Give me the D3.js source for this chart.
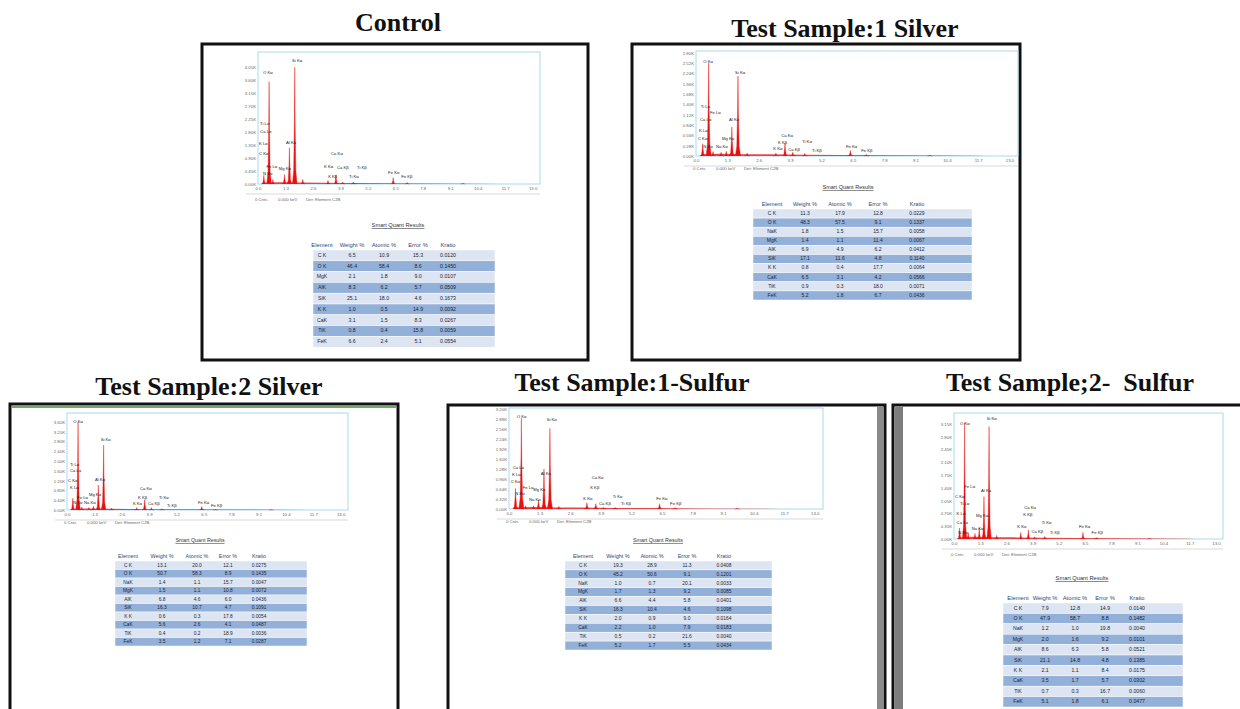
<!DOCTYPE html>
<html>
<head>
<meta charset="utf-8">
<script src="https://cdn.jsdelivr.net/npm/d3@7"></script>
<style>
  body { margin: 0; background: #fff; }
  svg { display: block; }
  .title { font-family: "Liberation Serif", "Times New Roman", serif; font-weight: bold; font-size: 26px; fill: #111; white-space: pre; }
  .axis text { font-family: "Liberation Sans", Arial, sans-serif; font-size: 4.3px; fill: #666; }
  .plabel { font-family: "Liberation Sans", Arial, sans-serif; font-size: 4.2px; fill: #222; }
  .foot { font-family: "Liberation Sans", Arial, sans-serif; font-size: 4.3px; fill: #666; }
  .tbl { font-family: "Liberation Sans", Arial, sans-serif; }
</style>
</head>
<body>
<svg width="1240" height="709"></svg>
<script>
// ---------------- data ----------------
const keVTicks = [0, 1.3, 2.6, 3.9, 5.2, 6.5, 7.8, 9.1, 10.4, 11.7, 13.0];
const tableHeader = ['Element', 'Weight %', 'Atomic %', 'Error %', 'Kratio'];
const footerTexts = ['0 Cnts', '0.000 keV', 'Det: Element C2B'];

// low background under the peaks: [keV, K counts]
const continuum = [[0.15, 0], [0.25, 0.05], [1.0, 0.06], [2.0, 0.05], [3.0, 0.045], [4.5, 0.035],
  [6.0, 0.028], [8.0, 0.02], [10.0, 0.012], [11.5, 0.004], [12.0, 0]];

// Control
const controlTicksK = [0, 0.45, 0.9, 1.35, 1.8, 2.25, 2.7, 3.15, 3.6, 4.05];
const controlPeaks = [[0.277, 0.30], [0.525, 3.55], [0.705, 0.16], [1.254, 0.33], [1.487, 1.26], [1.74, 4.05],
  [2.12, 0.16], [3.313, 0.12], [3.69, 0.32], [4.01, 0.07], [4.51, 0.07], [6.40, 0.22], [7.06, 0.05], [9.7, 0.03]];
const controlLabels = [['Si Kα', 1.61, 4.27], ['O Kα', 0.24, 3.85], ['Ti Lα', 0.1, 2.1], ['Ca Lα', 0.1, 1.82],
  ['K Lα', 0.05, 1.4], ['C Kα', 0.05, 1.05], ['Al Kα', 1.33, 1.43], ['Fe Lα', 0.4, 0.59], ['Mg Kα', 0.98, 0.52],
  ['N Kα', 0.24, 0.35], ['Ca Kα', 3.46, 1.05], ['K Kα', 3.13, 0.59], ['Ca Kβ', 3.74, 0.56], ['Ti Kβ', 4.69, 0.56],
  ['K Kβ', 3.32, 0.24], ['Ti Kα', 4.31, 0.24], ['Fe Kα', 6.16, 0.38], ['Fe Kβ', 6.78, 0.24]];
const controlRows = [
  ['C K', 6.5, 10.9, 15.3, 0.0120], ['O K', 46.4, 58.4, 8.6, 0.1450], ['MgK', 2.1, 1.8, 9.0, 0.0107],
  ['AlK', 8.3, 6.2, 5.7, 0.0509], ['SiK', 25.1, 18.0, 4.6, 0.1673], ['K K', 1.0, 0.5, 14.9, 0.0092],
  ['CaK', 3.1, 1.5, 8.3, 0.0267], ['TiK', 0.8, 0.4, 15.8, 0.0059], ['FeK', 6.6, 2.4, 5.1, 0.0554]];

// Test Sample:1 Silver
const silver1TicksK = [0, 0.28, 0.56, 0.84, 1.12, 1.4, 1.68, 1.96, 2.24, 2.52, 2.8];
const silver1Peaks = [[0.277, 0.33], [0.525, 2.53], [0.705, 0.12], [1.041, 0.10], [1.254, 0.13], [1.487, 0.79],
  [1.74, 2.17], [2.12, 0.08], [3.313, 0.08], [3.69, 0.35], [4.01, 0.1], [4.51, 0.07], [6.40, 0.15], [7.06, 0.04], [9.7, 0.02]];
const silver1Labels = [['O Kα', 0.3, 2.55], ['Si Kα', 1.62, 2.25], ['Ti Lα', 0.2, 1.34], ['Fe Lα', 0.58, 1.17],
  ['Ca Lα', 0.17, 0.98], ['Al Kα', 1.37, 0.98], ['K Lα', 0.12, 0.68], ['C Kα', 0.08, 0.46], ['Mg Kα', 1.08, 0.46],
  ['N Kα', 0.3, 0.24], ['Na Kα', 0.83, 0.24], ['Ca Kα', 3.53, 0.54], ['K Kβ', 3.4, 0.35], ['Ti Kα', 4.4, 0.38],
  ['K Kα', 3.2, 0.19], ['Ca Kβ', 3.82, 0.16], ['Ti Kβ', 4.81, 0.14], ['Fe Kα', 6.22, 0.24], ['Fe Kβ', 6.85, 0.14]];
const silver1Rows = [
  ['C K', 11.3, 17.9, 12.8, 0.0229], ['O K', 48.3, 57.5, 9.1, 0.1337], ['NaK', 1.8, 1.5, 15.7, 0.0058],
  ['MgK', 1.4, 1.1, 11.4, 0.0067], ['AlK', 6.9, 4.9, 6.2, 0.0412], ['SiK', 17.1, 11.6, 4.8, 0.1140],
  ['K K', 0.8, 0.4, 17.7, 0.0064], ['CaK', 6.5, 3.1, 4.2, 0.0566], ['TiK', 0.9, 0.3, 18.0, 0.0071],
  ['FeK', 5.2, 1.8, 6.7, 0.0436]];

// Test Sample:2 Silver
const silver2TicksK = [0, 0.4, 0.8, 1.2, 1.6, 2.0, 2.4, 2.8, 3.2, 3.6];
const silver2Peaks = [[0.277, 0.48], [0.525, 3.6], [0.705, 0.12], [1.041, 0.1], [1.254, 0.16], [1.487, 1.02],
  [1.74, 2.66], [2.12, 0.08], [3.313, 0.1], [3.69, 0.42], [4.01, 0.1], [4.51, 0.05], [6.40, 0.14], [7.06, 0.04], [9.7, 0.02]];
const silver2Labels = [['O Kα', 0.3, 3.62], ['Si Kα', 1.6, 2.87], ['Ti Lα', 0.14, 1.84], ['Ca Lα', 0.14, 1.6],
  ['C Kα', 0.05, 1.19], ['Al Kα', 1.33, 1.23], ['K Lα', 0.14, 0.9], ['Fe Lα', 0.48, 0.49], ['Mg Kα', 1.04, 0.61],
  ['N Kα', 0.29, 0.29], ['Na Kα', 0.81, 0.29], ['Ca Kα', 3.47, 0.86], ['K Kβ', 3.37, 0.49], ['Ti Kα', 4.37, 0.49],
  ['K Kα', 3.13, 0.25], ['Ca Kβ', 3.85, 0.25], ['Ti Kβ', 4.75, 0.16], ['Fe Kα', 6.22, 0.29], ['Fe Kβ', 6.84, 0.16]];
const silver2Rows = [
  ['C K', 13.1, 20.0, 12.1, 0.0275], ['O K', 50.7, 58.3, 8.9, 0.1435], ['NaK', 1.4, 1.1, 15.7, 0.0047],
  ['MgK', 1.5, 1.1, 10.8, 0.0072], ['AlK', 6.8, 4.6, 6.0, 0.0436], ['SiK', 16.3, 10.7, 4.7, 0.1091],
  ['K K', 0.6, 0.3, 17.8, 0.0054], ['CaK', 5.6, 2.6, 4.1, 0.0487], ['TiK', 0.4, 0.2, 18.9, 0.0036],
  ['FeK', 3.5, 1.2, 7.1, 0.0287]];

// Test Sample:1-Sulfur
const sulfur1TicksK = [0, 0.32, 0.64, 0.96, 1.28, 1.6, 1.92, 2.24, 2.56, 2.88, 3.2];
const sulfur1Peaks = [[0.277, 0.66], [0.525, 2.9], [0.705, 0.1], [1.041, 0.1], [1.254, 0.29], [1.487, 1.28],
  [1.74, 2.58], [2.12, 0.08], [3.313, 0.2], [3.69, 0.17], [4.01, 0.05], [4.51, 0.05], [6.40, 0.17], [7.06, 0.04], [9.7, 0.03]];
const sulfur1Labels = [['O Kα', 0.33, 2.95], ['Si Kα', 1.6, 2.85], ['Ca Lα', 0.16, 1.32], ['K Lα', 0.13, 1.09],
  ['C Kα', 0.07, 0.87], ['Al Kα', 1.35, 1.12], ['Fe Lα', 0.58, 0.66], ['Mg Kα', 1.03, 0.61], ['N Kα', 0.27, 0.47],
  ['Na Kα', 0.85, 0.29], ['Ca Kα', 3.52, 1.01], ['K Kβ', 3.45, 0.66], ['Ti Kα', 4.41, 0.39], ['K Kα', 3.16, 0.32],
  ['Ca Kβ', 3.83, 0.17], ['Ti Kβ', 4.77, 0.17], ['Fe Kα', 6.26, 0.32], ['Fe Kβ', 6.85, 0.15]];
const sulfur1Rows = [
  ['C K', 19.3, 28.9, 11.3, 0.0408], ['O K', 45.2, 50.6, 9.1, 0.1201], ['NaK', 1.0, 0.7, 20.1, 0.0033],
  ['MgK', 1.7, 1.3, 9.2, 0.0085], ['AlK', 6.6, 4.4, 5.8, 0.0401], ['SiK', 16.3, 10.4, 4.6, 0.1098],
  ['K K', 2.0, 0.9, 9.0, 0.0164], ['CaK', 2.2, 1.0, 7.9, 0.0183], ['TiK', 0.5, 0.2, 21.6, 0.0040],
  ['FeK', 5.2, 1.7, 5.5, 0.0434]];

// Test Sample;2- Sulfur
const sulfur2TicksK = [0, 0.35, 0.7, 1.05, 1.4, 1.75, 2.1, 2.45, 2.8, 3.15];
const sulfur2Peaks = [[0.277, 0.3], [0.525, 3.18], [0.705, 0.18], [1.041, 0.15], [1.254, 0.3], [1.487, 1.16],
  [1.74, 3.08], [2.12, 0.1], [3.313, 0.18], [3.69, 0.25], [4.01, 0.06], [4.51, 0.07], [6.40, 0.18], [7.06, 0.04], [9.7, 0.02]];
const sulfur2Labels = [['Si Kα', 1.62, 3.29], ['O Kα', 0.3, 3.14], ['Fe Lα', 0.51, 1.42], ['C Kα', 0.05, 1.16],
  ['Ti Lα', 0.3, 0.96], ['Al Kα', 1.34, 1.32], ['Ca Kα', 3.49, 0.86], ['K Kβ', 3.44, 0.66], ['Mg Kα', 1.09, 0.63],
  ['K Lα', 0.13, 0.68], ['Ca Lα', 0.13, 0.43], ['Ti Kα', 4.35, 0.43], ['Na Kα', 0.88, 0.27], ['K Kα', 3.14, 0.34],
  ['Ti Kβ', 4.76, 0.17], ['Ca Kβ', 3.85, 0.19], ['Fe Kα', 6.2, 0.34], ['Fe Kβ', 6.83, 0.17], ['N Kα', 0.21, 0.17]];
const sulfur2Rows = [
  ['C K', 7.9, 12.8, 14.9, 0.0140], ['O K', 47.9, 58.7, 8.8, 0.1482], ['NaK', 1.2, 1.0, 19.8, 0.0040],
  ['MgK', 2.0, 1.6, 9.2, 0.0101], ['AlK', 8.6, 6.3, 5.8, 0.0521], ['SiK', 21.1, 14.8, 4.8, 0.1385],
  ['K K', 2.1, 1.1, 8.4, 0.0175], ['CaK', 3.5, 1.7, 5.7, 0.0302], ['TiK', 0.7, 0.3, 16.7, 0.0060],
  ['FeK', 5.1, 1.8, 6.1, 0.0477]];

// ---------------- drawing ----------------
class EdsPanel {
  constructor(cfg) {
    this.svg = d3.select('svg');
    this.cfg = cfg;
    this.g = this.svg.append('g');
    this.xScale;
    this.yScale;
  }

  draw = () => {
    this.drawBox();
    this.drawTitle();
    this.setScales();
    this.drawFrame();
    this.drawAxes();
    this.drawPeaks();
    this.drawLabels();
    this.drawFooter();
    this.drawTable();
  }

  drawBox = () => {
    const b = this.cfg.box;
    this.g.append('rect')
      .attr('x', b.x).attr('y', b.y).attr('width', b.w).attr('height', b.h)
      .attr('fill', '#fff').attr('stroke', '#111').attr('stroke-width', 3);
  }

  drawTitle = () => {
    const t = this.cfg.title;
    this.g.append('text').attr('class', 'title')
      .attr('x', t.x).attr('y', t.y).attr('text-anchor', 'middle')
      .text(t.text);
  }

  setScales = () => {
    const f = this.cfg.frame;
    this.xScale = d3.scaleLinear().domain([0, 13.35]).range([f.x, f.x + f.w]);
    this.yScale = d3.scaleLinear().domain([0, this.cfg.yMax]).range([f.y + f.h, f.y]);
  }

  drawFrame = () => {
    const f = this.cfg.frame;
    this.g.append('rect')
      .attr('x', f.x).attr('y', f.y).attr('width', f.w).attr('height', f.h)
      .attr('fill', 'none').attr('stroke', '#a8daeb').attr('stroke-width', 1);
  }

  drawAxes = () => {
    const f = this.cfg.frame;
    const yAxis = d3.axisLeft(this.yScale)
      .tickValues(this.cfg.ticksK).tickSize(0).tickPadding(2)
      .tickFormat(d => d3.format('.2f')(d) + 'K');
    this.g.append('g').attr('class', 'axis')
      .attr('transform', `translate(${f.x},0)`)
      .call(yAxis)
      .call(g => g.select('.domain').remove());

    const xAxis = d3.axisBottom(this.xScale)
      .tickValues(keVTicks).tickSize(0).tickPadding(3)
      .tickFormat(d3.format('.1f'));
    this.g.append('g').attr('class', 'axis')
      .attr('transform', `translate(0,${f.y + f.h})`)
      .call(xAxis)
      .call(g => g.select('.domain').remove());

    // grey rule under the energy axis
    this.g.append('line')
      .attr('x1', f.x - 12).attr('x2', f.x + f.w)
      .attr('y1', f.y + f.h + 10).attr('y2', f.y + f.h + 10)
      .attr('stroke', '#cfcfcf').attr('stroke-width', 0.8);
  }

  drawPeaks = () => {
    const x = this.xScale, y = this.yScale;
    const area = d3.area().x(d => x(d[0])).y0(y(0)).y1(d => y(d[1]));
    this.g.append('path').datum(continuum)
      .attr('d', area).attr('fill', '#e41a1a').attr('opacity', 0.8);

    // each peak as a narrow spike around its energy
    const w = 0.11;
    const line = d3.line().x(d => x(d[0])).y(d => y(d[1]));
    this.g.selectAll('path.peak')
      .data(this.cfg.peaks)
      .join('path').attr('class', 'peak')
      .attr('d', ([e, h]) => line([[e - w, 0], [e - w * 0.45, h * 0.12], [e - w * 0.15, h * 0.55], [e, h],
        [e + w * 0.15, h * 0.55], [e + w * 0.45, h * 0.12], [e + w, 0]]))
      .attr('fill', '#e8110f').attr('stroke', '#e8110f').attr('stroke-width', 0.4);
  }

  drawLabels = () => {
    this.g.selectAll('text.plabel')
      .data(this.cfg.labels)
      .join('text').attr('class', 'plabel')
      .attr('x', d => this.xScale(d[1]))
      .attr('y', d => this.yScale(d[2]))
      .attr('dominant-baseline', 'middle')
      .text(d => d[0]);
  }

  drawFooter = () => {
    const f = this.cfg.frame;
    const offs = [-3, 20, 48];
    this.g.selectAll('text.foot')
      .data(footerTexts)
      .join('text').attr('class', 'foot')
      .attr('x', (d, i) => f.x + offs[i])
      .attr('y', f.y + f.h + this.cfg.footDy)
      .text(d => d);
  }

  drawTable = () => {
    const t = this.cfg.table;
    const tg = this.g.append('g').attr('class', 'tbl');

    tg.append('text')
      .attr('x', t.titleX).attr('y', t.titleY).attr('text-anchor', 'middle')
      .attr('font-size', t.fs + 0.5).attr('fill', '#333')
      .style('text-decoration', 'underline')
      .text('Smart Quant Results');

    tg.selectAll('text.hdr')
      .data(tableHeader)
      .join('text').attr('class', 'hdr')
      .attr('x', (d, i) => t.cols[i]).attr('y', t.headerY)
      .attr('text-anchor', 'middle').attr('font-size', t.fs + 0.6)
      .attr('fill', '#2a4a7a')
      .text(d => d);

    const rows = tg.selectAll('g.row')
      .data(this.cfg.rows)
      .join('g').attr('class', 'row')
      .attr('transform', (d, i) => `translate(0,${t.rowTop + i * t.rowH})`);

    rows.append('rect')
      .attr('x', t.x0).attr('width', t.x1 - t.x0).attr('height', t.rowH)
      .attr('fill', (d, i) => i % 2 === 0 ? '#dce5f1' : '#93b0d8')
      .attr('stroke', '#fff').attr('stroke-width', 0.5);

    const fmt = [d => d, d3.format('.1f'), d3.format('.1f'), d3.format('.1f'), d3.format('.4f')];
    rows.selectAll('text')
      .data(d => d)
      .join('text')
      .attr('x', (d, i) => t.cols[i]).attr('y', t.rowH / 2)
      .attr('dominant-baseline', 'middle').attr('text-anchor', 'middle')
      .attr('font-size', t.fs).attr('fill', '#1d2533')
      .text((d, i) => fmt[i](d));
  }
}

const panels = [
  {
    box: { x: 202, y: 44, w: 386, h: 316 },
    title: { text: 'Control', x: 398, y: 31 },
    frame: { x: 258, y: 52, w: 282, h: 132 }, yMax: 4.58, ticksK: controlTicksK, footDy: 17,
    peaks: controlPeaks, labels: controlLabels, rows: controlRows,
    table: { titleX: 398, titleY: 227, headerY: 247, rowTop: 250, rowH: 10.8, x0: 313, x1: 495,
      cols: [322, 352, 384, 418, 448], fs: 5.2 }
  },
  {
    box: { x: 632, y: 44, w: 388, h: 316 },
    title: { text: 'Test Sample:1 Silver', x: 845, y: 37 },
    frame: { x: 696, y: 51, w: 322, h: 105 }, yMax: 2.85, ticksK: silver1TicksK, footDy: 14,
    peaks: silver1Peaks, labels: silver1Labels, rows: silver1Rows,
    table: { titleX: 848, titleY: 189, headerY: 206, rowTop: 209, rowH: 9.1, x0: 753, x1: 972,
      cols: [772, 805, 840, 878, 917], fs: 5 }
  },
  {
    box: { x: 10, y: 404, w: 388, h: 330 },
    title: { text: 'Test Sample:2 Silver', x: 209, y: 395 },
    frame: { x: 67, y: 413, w: 281, h: 97 }, yMax: 3.97, ticksK: silver2TicksK, footDy: 14,
    peaks: silver2Peaks, labels: silver2Labels, rows: silver2Rows,
    table: { titleX: 200, titleY: 542, headerY: 558, rowTop: 561, rowH: 8.5, x0: 115, x1: 307,
      cols: [128, 162, 197, 228, 259], fs: 4.8 }
  },
  {
    box: { x: 448, y: 405, w: 437, h: 330 },
    title: { text: 'Test Sample:1-Sulfur', x: 632, y: 391 },
    frame: { x: 509, y: 408, w: 314, h: 101 }, yMax: 3.23, ticksK: sulfur1TicksK, footDy: 14,
    peaks: sulfur1Peaks, labels: sulfur1Labels, rows: sulfur1Rows,
    table: { titleX: 658, titleY: 542, headerY: 558, rowTop: 561, rowH: 8.9, x0: 565, x1: 772,
      cols: [583, 618, 652, 687, 724], fs: 4.9 }
  },
  {
    box: { x: 893, y: 405, w: 370, h: 330 },
    title: { text: 'Test Sample;2-  Sulfur', x: 1070, y: 391 },
    frame: { x: 954, y: 413, w: 269, h: 126 }, yMax: 3.45, ticksK: sulfur2TicksK, footDy: 17,
    peaks: sulfur2Peaks, labels: sulfur2Labels, rows: sulfur2Rows,
    table: { titleX: 1082, titleY: 580, headerY: 600, rowTop: 603, rowH: 10.4, x0: 1003, x1: 1183,
      cols: [1018, 1045, 1075, 1105, 1137], fs: 5.2 }
  }
];

panels.forEach(cfg => new EdsPanel(cfg).draw());

// scanned-page edges: green strip on sample 2 silver, grey bars between the sulfur panels
const svg = d3.select('svg');
svg.append('rect').attr('x', 12).attr('y', 406).attr('width', 384).attr('height', 2).attr('fill', '#6fa86a');
svg.append('rect').attr('x', 877).attr('y', 407).attr('width', 6).attr('height', 302).attr('fill', '#8a8a8a');
svg.append('rect').attr('x', 895).attr('y', 407).attr('width', 8).attr('height', 302).attr('fill', '#7d7d7d');
</script>
</body>
</html>
